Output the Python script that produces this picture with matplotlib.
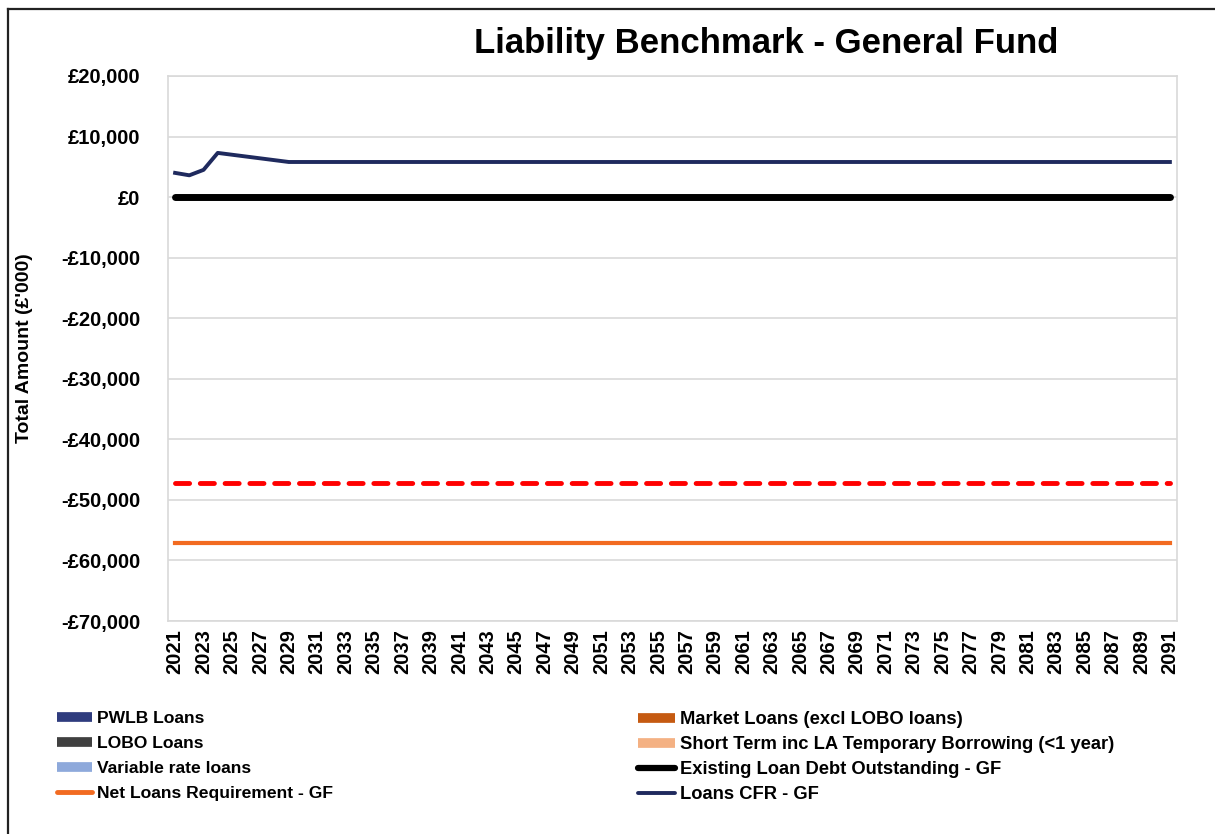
import numpy as np
import matplotlib
matplotlib.use("Agg")
import matplotlib.pyplot as plt
from matplotlib.lines import Line2D
from matplotlib.ticker import FuncFormatter

plt.rcParams['font.family'] = ['Liberation Sans', 'DejaVu Sans']
plt.rcParams['font.weight'] = 'bold'

# Years on the category axis
years = list(range(2021, 2092))

# Loans CFR - GF (£'000)
cfr_start = [4000, 3600, 4500, 7300, 7000, 6700, 6400, 6100, 5800]
loans_cfr = cfr_start + [5800] * (len(years) - len(cfr_start))

# Existing loan debt outstanding (all zero)
existing_debt = [0] * len(years)

# Net loans requirement and the red dashed line
net_loans_req = [-57100] * len(years)
red_dashed = [-47200] * len(years)

# Stacked loan categories (all zero over the period)
pwlb = [0] * len(years)
market = [0] * len(years)
lobo = [0] * len(years)
short_term = [0] * len(years)
variable = [0] * len(years)

fig = plt.figure(figsize=(12.15, 8.34), dpi=100)
ax = fig.add_axes([168/1215, 1-621/834, (1177-168)/1215, (621-76)/834])

x = np.arange(len(years))

# stacked areas (zero)
ax.stackplot(x, pwlb, market, lobo, short_term, variable,
             colors=['#2F3C7E', '#C55A11', '#404040', '#F4B183', '#8EA9DB'], lw=0)

ax.plot(x, red_dashed, color='#FF0000', lw=3.5, dashes=(2.9, 2.2), dash_capstyle='round')
ax.plot(x, net_loans_req, color='#F26B21', lw=3.0)
ax.plot(x, existing_debt, color='black', lw=5.0, solid_capstyle='round')
ax.plot(x, loans_cfr, color='#1F2A5E', lw=2.8)

ax.set_xlim(-0.5, len(years) - 0.5)
ax.set_ylim(-70000, 20000)
ax.set_yticks(np.arange(-70000, 20001, 10000))
ax.yaxis.set_major_formatter(FuncFormatter(
    lambda v, p: ('-£{:,.0f}'.format(-v) if v < 0 else '£{:,.0f}'.format(v))))
ax.set_xticks(x[::2])
ax.set_xticklabels([str(y) for y in years[::2]], rotation=90)
ax.tick_params(axis='both', length=0, labelsize=14.5)
ax.tick_params(axis='y', pad=20)
ax.tick_params(axis='x', pad=6)
for lbl in ax.get_xticklabels() + ax.get_yticklabels():
    lbl.set_fontweight('bold')

ax.grid(axis='y', color='#D9D9D9', lw=1.2)
ax.set_axisbelow(True)
for s in ax.spines.values():
    s.set_color('#D9D9D9')
    s.set_linewidth(1.2)

ax.set_ylabel("Total Amount (£'000)", fontsize=14, fontweight='bold')
ax.yaxis.set_label_coords(-135/1009, 0.5)

fig.text(766/1215, 1-44/834, 'Liability Benchmark - General Fund',
         ha='center', va='center', fontsize=25, fontweight='bold')

# legends, two columns
left_handles = [
    Line2D([], [], color='#2F3C7E', lw=7, solid_capstyle='butt'),
    Line2D([], [], color='#404040', lw=7, solid_capstyle='butt'),
    Line2D([], [], color='#8EA9DB', lw=7, solid_capstyle='butt'),
    Line2D([], [], color='#F26B21', lw=3.5, solid_capstyle='round'),
]
left_labels = ['PWLB Loans', 'LOBO Loans', 'Variable rate loans', 'Net Loans Requirement - GF']
right_handles = [
    Line2D([], [], color='#C55A11', lw=7, solid_capstyle='butt'),
    Line2D([], [], color='#F4B183', lw=7, solid_capstyle='butt'),
    Line2D([], [], color='black', lw=4.5, solid_capstyle='round'),
    Line2D([], [], color='#1F2A5E', lw=2.8, solid_capstyle='round'),
]
right_labels = ['Market Loans (excl LOBO loans)', 'Short Term inc LA Temporary Borrowing (<1 year)',
                'Existing Loan Debt Outstanding - GF', 'Loans CFR - GF']

common = dict(loc='upper left', frameon=False, borderpad=0, borderaxespad=0,
              handlelength=2.0, handletextpad=0.3)
leg1 = fig.legend(left_handles, left_labels, bbox_to_anchor=(57/1215, 1-711/834),
                  prop={'size': 12.6, 'weight': 'bold'}, labelspacing=0.555, **common)
leg2 = fig.legend(right_handles, right_labels, bbox_to_anchor=(638/1215, 1-711/834),
                  prop={'size': 13.2, 'weight': 'bold'}, labelspacing=0.44, **common)

# outer border (left and top)
fig.add_artist(Line2D([8/1215, 8/1215], [0, 1-9/834], color='#222222', lw=1.6,
                      transform=fig.transFigure))
fig.add_artist(Line2D([8/1215, 1], [1-9/834, 1-9/834], color='#222222', lw=1.6,
                      transform=fig.transFigure))

fig.savefig('out.png', dpi=100)
